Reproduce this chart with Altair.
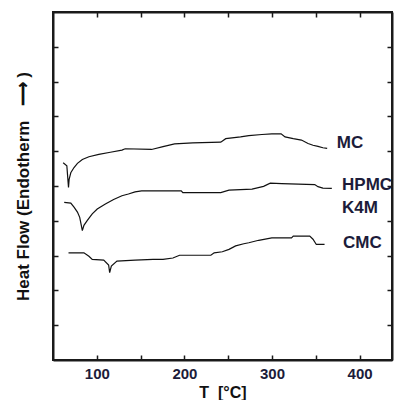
import altair as alt
import pandas as pd

# --- data ---
mc_t = [61.6, 65.8, 67.7, 68.4, 70.3, 74.0, 77.9, 83.5, 91.0, 102.3, 115.5, 128.7, 132.4,
        162.5, 175.6, 188.8, 209.5, 241.5, 247.2, 264.1, 273.5, 288.5, 299.8, 310.4, 314.9,
        324.3, 333.6, 341.2, 346.8, 352.5, 358.1, 363.0]
mc_h = [5.67, 5.58, 4.96, 5.19, 5.38, 5.53, 5.65, 5.76, 5.84, 5.91, 5.97, 6.03, 6.07,
        6.05, 6.13, 6.21, 6.24, 6.26, 6.36, 6.41, 6.45, 6.48, 6.50, 6.50, 6.41,
        6.36, 6.32, 6.22, 6.17, 6.14, 6.10, 6.08]

hpmc_t = [62.8, 70.3, 74.0, 77.9, 80.5, 83.5, 85.3, 89.2, 94.8, 100.5, 109.8, 119.2, 128.7,
          136.1, 143.7, 151.2, 196.4, 198.2, 241.5, 250.9, 277.2, 290.4, 298.0, 311.1,
          348.8, 352.5, 358.1, 368.3]
hpmc_h = [4.53, 4.51, 4.39, 4.25, 4.10, 3.72, 3.87, 4.01, 4.20, 4.34, 4.48, 4.61, 4.72,
          4.77, 4.83, 4.86, 4.86, 4.81, 4.81, 4.88, 4.91, 4.99, 5.08, 5.07,
          5.04, 4.98, 4.94, 4.93]

cmc_t = [67.7, 85.3, 91.0, 94.8, 107.9, 113.5, 114.7, 116.6, 123.0, 143.7, 164.3, 175.6,
         186.9, 194.5, 230.2, 234.0, 243.3, 250.9, 258.5, 267.8, 273.5, 284.8, 299.8,
         322.3, 324.3, 343.1, 346.8, 350.6, 360.0]
cmc_h = [3.08, 3.08, 2.98, 2.89, 2.87, 2.73, 2.51, 2.70, 2.84, 2.87, 2.89, 2.89,
         2.93, 3.01, 3.01, 3.08, 3.11, 3.18, 3.28, 3.34, 3.37, 3.44, 3.51,
         3.51, 3.56, 3.56, 3.47, 3.32, 3.32]

label_text = ["MC", "HPMC", "K4M", "CMC"]
label_t = [374, 380, 380, 381]
label_h = [6.24, 5.04, 4.36, 3.36]

x_ticks = [100, 150, 200, 250, 300, 350, 400]
y_ticks = [1, 2, 3, 4, 5, 6, 7, 8, 9]

rows = []
for name, ts, hs in [("MC", mc_t, mc_h), ("HPMC", hpmc_t, hpmc_h), ("CMC", cmc_t, cmc_h)]:
    for i, (t, h) in enumerate(zip(ts, hs)):
        rows.append({"sample": name, "T": t, "H": h, "i": i})
lines_df = pd.DataFrame(rows)
labels_df = pd.DataFrame({"label": label_text, "T": label_t, "H": label_h})

xscale = alt.Scale(domain=[50, 437], nice=False, zero=False)
yscale = alt.Scale(domain=[0, 10], nice=False, zero=False)
inward = alt.ExprRef(expr="-5")
lab_font = "Liberation Sans"
frame = "#1a1a1a"

lines = alt.Chart(lines_df).mark_line(color="#111111", strokeWidth=1.2).encode(
    x=alt.X("T:Q", scale=xscale,
            axis=alt.Axis(orient="bottom", values=x_ticks,
                          labelExpr="datum.value % 100 == 0 ? datum.label : ''",
                          tickSize=inward, tickColor=frame, tickWidth=1.5,
                          domain=True, domainColor=frame, domainWidth=2,
                          grid=True, gridOpacity=0, labelOverlap=False,
                          labelFont=lab_font, labelFontSize=15, labelFontWeight="bold",
                          labelColor="#1c1c3a", labelPadding=11,
                          title="T\u00a0\u00a0[°C]", titleFont=lab_font, titleFontSize=16,
                          titleFontWeight="bold", titleColor="#111111", titlePadding=3)),
    y=alt.Y("H:Q", scale=yscale,
            axis=alt.Axis(orient="left", values=y_ticks, labels=False,
                          tickSize=inward, tickColor=frame, tickWidth=1.5,
                          domain=True, domainColor=frame, domainWidth=2,
                          grid=True, gridOpacity=0,
                          title="Heat Flow (Endotherm\u00a0\u00a0\u00a0\u27f6\u00a0)",
                          titleFont=lab_font, titleFontSize=17, titleFontWeight="bold",
                          titleColor="#111111", titlePadding=20)),
    detail="sample:N",
    order="i:Q",
)

labels = alt.Chart(labels_df).mark_text(
    align="left", baseline="middle", font=lab_font, fontSize=17, fontWeight="bold",
    color="#1c1c3a"
).encode(
    x=alt.X("T:Q", scale=xscale,
            axis=alt.Axis(orient="top", values=x_ticks, labels=False, title=None,
                          tickSize=inward, tickColor=frame, tickWidth=1.5,
                          domain=True, domainColor=frame, domainWidth=2,
                          grid=True, gridOpacity=0)),
    y=alt.Y("H:Q", scale=yscale,
            axis=alt.Axis(orient="right", values=y_ticks, labels=False, title=None,
                          tickSize=inward, tickColor=frame, tickWidth=1.5,
                          domain=True, domainColor=frame, domainWidth=2,
                          grid=True, gridOpacity=0)),
    text="label:N",
)

chart = alt.layer(lines, labels).resolve_axis(
    x="independent", y="independent"
).properties(
    width=388, height=392,
    autosize=alt.AutoSizeParams(type="fit", contains="padding"),
    padding={"left": 6, "top": 3, "right": 3, "bottom": 0},
    background="white",
).configure_view(stroke=frame, strokeWidth=2)

chart.save("out.html", embed_options={"renderer": "svg", "actions": False})
